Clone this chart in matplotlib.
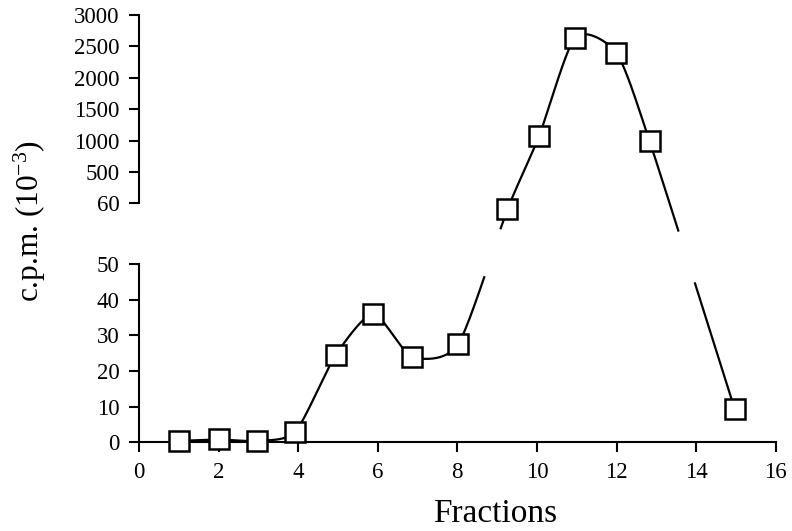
import matplotlib
matplotlib.use("Agg")
import matplotlib.pyplot as plt
import numpy as np

plt.rcParams['font.family'] = ['Liberation Serif', 'DejaVu Serif']
plt.rcParams['mathtext.fontset'] = 'custom'
plt.rcParams['mathtext.rm'] = 'Liberation Serif'
plt.rcParams['mathtext.it'] = 'Liberation Serif:italic'

# data
fractions = [1, 2, 2.96, 3.93, 4.94, 5.89, 6.86, 8.02, 9.26, 10.05, 10.96, 11.99, 12.83, 14.97]
cpm = [0.4, 0.8, 0.4, 3.0, 24.4, 36.0, 24.0, 27.5, 59, 1065, 2640, 2400, 992, 9.3]

x_ticks = [0, 2, 4, 6, 8, 10, 12, 14, 16]
y_ticks = [0, 10, 20, 30, 40, 50, 60, 500, 1000, 1500, 2000, 2500, 3000]

# broken y axis: 0-50 linear, gap, then 60-3000 with evenly spaced ticks
brk_v = [0, 50, 60, 500, 3000]
brk_p = [0, 178.3, 239.0, 270.4, 427.3]


def fwd(v):
    return np.interp(v, brk_v, brk_p)


def inv(p):
    return np.interp(p, brk_p, brk_v)


def catmull(p, n=40, tension=0.7):
    ext = np.vstack([p[0], p, p[-1]])
    t = np.linspace(0, 1, n)[:, None]
    h00 = 2*t**3 - 3*t**2 + 1
    h10 = t**3 - 2*t**2 + t
    h01 = -2*t**3 + 3*t**2
    h11 = t**3 - t**2
    out = []
    for i in range(len(p) - 1):
        p0, p1, p2, p3 = ext[i], ext[i+1], ext[i+2], ext[i+3]
        m1 = tension * (p2 - p0) / 2
        m2 = tension * (p3 - p1) / 2
        out.append(h00*p1 + h10*m1 + h01*p2 + h11*m2)
    return np.vstack(out)


fig = plt.figure(figsize=(7.92, 5.31), dpi=100)
ax = fig.add_axes([139/792, 1 - 442.3/531, (775.7 - 139)/792, (442.3 - 15)/531])
ax.set_yscale('function', functions=(fwd, inv))
ax.set_xlim(0, 16)
ax.set_ylim(0, 3000)

# smooth curve through the points, built in display space
pts = ax.transData.transform(np.column_stack([fractions, cpm]))
curve = ax.transData.inverted().transform(catmull(pts))
cy = curve[:, 1].copy()
cy[(cy > 47) & (cy < 55.5)] = np.nan
ax.plot(curve[:, 0], cy, color='black', lw=1.6, zorder=2)

ax.plot(fractions, cpm, linestyle='none', marker='s', ms=14.5, mfc='white',
        mec='black', mew=1.8, clip_on=False, zorder=3)

for s in ['top', 'right']:
    ax.spines[s].set_visible(False)
ax.spines['left'].set_bounds(0, 50)
ax.spines['left'].set_linewidth(1.5)
ax.spines['bottom'].set_linewidth(1.5)
ax.plot([0, 0], [60, 3000], color='black', lw=1.5, clip_on=False, solid_capstyle='projecting')

ax.set_xticks(x_ticks)
ax.set_yticks(y_ticks)
ax.set_yticklabels([str(v) for v in y_ticks])
ax.minorticks_off()
ax.tick_params(axis='both', direction='out', length=7, width=1.5, labelsize=16.5,
               pad=7, colors='black')

fig.text(495/792, 1 - 522/531, 'Fractions', ha='center', va='baseline', fontsize=24)
fig.text(30/792, 1 - 221/531, 'c.p.m. (10$^{\\mathregular{-3}}$)', rotation=90,
         ha='center', va='center', fontsize=22.5)

fig.savefig('out.png', dpi=100)
